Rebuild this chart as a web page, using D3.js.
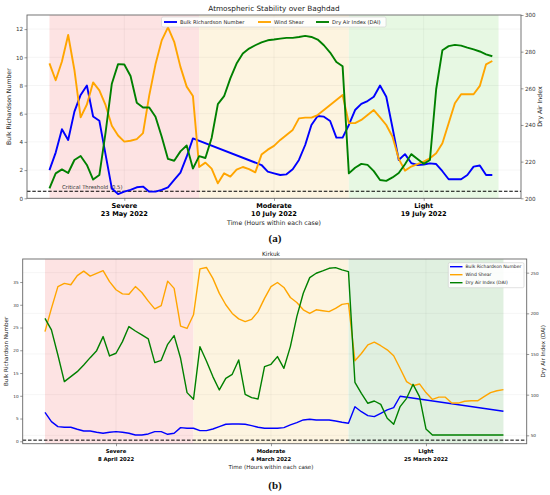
<!DOCTYPE html>
<html>
<head>
<meta charset="utf-8">
<script src="https://cdn.jsdelivr.net/npm/d3@7/dist/d3.min.js"></script>
<style>
body { margin: 0; background: #fff; }
text { font-family: "DejaVu Sans", sans-serif; }
</style>
</head>
<body>
<svg id="chart" width="550" height="495"></svg>
<script>
// ---- shared labels ----
var caseNames = ["Severe", "Moderate", "Light"];
var seriesNames = ["Bulk Richardson Number", "Wind Shear", "Dry Air Index (DAI)"];
var seriesColors = ["#0000ff", "#ffa500", "#008000"];
var caseTickHours = [12, 36, 60];

// ---- (a) Baghdad, hourly from hour 0 ----
var datesA = ["23 May 2022", "10 July 2022", "19 July 2022"];
var edgesA = [0, 24, 48, 72];
var briA = [2.0, 3.24, 4.9, 4.14, 6.15, 7.33, 8.0, 5.8, 5.5, 3.1, 0.7, 0.3, 0.47, 0.6, 0.78, 0.83, 0.47, 0.47, 0.6, 0.78, 1.3, 1.82, 2.95, 4.25,
  null, null, null, null, null, null, null, null, null, null, 2.36, 1.89, 1.77, 1.65, 1.7, 2.06, 2.72, 3.78, 5.2, 5.84, 5.79, 5.48, 4.3, 4.3,
  5.2, 6.26, 6.7, 6.9, 7.2, 8.0, 7.2, 5.0, 2.72, 3.13, 2.5, 2.36, 2.4, 2.48, 2.43, 1.92, 1.35, 1.35, 1.35, 1.65, 2.25, 2.33, 1.65, 1.65];
var shearA = [9.57, 8.37, 9.7, 11.58, 9.1, 5.74, 6.65, 8.22, 7.65, 6.6, 5.15, 4.45, 4.02, 4.08, 4.2, 4.62, 7.3, 9.5, 11.2, 12.12, 11.1, 9.32, 7.92, 7.26,
  2.22, 2.53, 2.1, 1.06, 1.77, 1.54, 2.03, 2.22, 2.07, 1.84, 3.1, 3.45, 3.72, 4.14, 4.49, 4.85, 5.67, 5.72, 5.72, 5.9, 6.26, 6.62, 6.97, 7.33,
  5.33, 5.33, 5.56, 5.91, 6.26, 5.74, 5.2, 4.37, 2.8, 1.96, 2.25, 2.43, 2.6, 2.84, 3.19, 3.9, 5.32, 6.74, 7.38, 7.38, 7.38, 7.97, 9.5, 9.74];
var daiA = [205.4, 213.6, 215.8, 213.8, 220.9, 223.1, 218.2, 210.2, 212.7, 236, 262.5, 273.2, 273, 266.7, 252.1, 249.5, 249.5, 244.5, 233.6, 221.5, 220.5, 225.6, 228.8, 216.2,
  223, 222, 232.9, 251.4, 255.7, 265.4, 273.5, 279, 281.7, 283.5, 285.1, 286.2, 286.6, 287.1, 287.5, 287.5, 288, 288.6, 288, 286.6, 283.5, 279.5, 274.4, 272,
  213.6, 216.7, 218.8, 218.2, 214.8, 210, 209.5, 211.4, 213.8, 218.6, 224.1, 221.5, 218.8, 220.9, 259.5, 280.8, 283, 283.7, 283.3, 282.2, 281.2, 280.1, 278.5, 277.5];
var leftTicksA = [0, 2, 4, 6, 8, 10, 12];
var rightTicksA = [200, 220, 240, 260, 280, 300];

// ---- (b) Kirkuk, hourly from hour 1 ----
var datesB = ["8 April 2022", "4 March 2022", "25 March 2022"];
var edgesB = [1, 24, 48, 72];
var briB = [6.37, 4.32, 3.22, 3.08, 3.08, 2.64, 2.27, 2.27, 1.98, 1.76, 1.98, 2.12, 1.98, 1.76, 1.39, 1.39, 1.61, 2.12, 2.12, 1.54, 1.76, 3.0, 2.86, 2.86,
  2.34, 2.34, 2.7, 3.22, 3.74, 3.8, 3.8, 3.74, 3.44, 3.08, 2.86, 2.86, 2.86, 3.0, 3.59, 4.1, 4.69, 4.83, 4.69, 4.69, 4.69, 4.47, 4.18, 3.96,
  7.6, 6.5, 5.64, 5.42, 6.15, 6.9, 7.4, 9.9, null, null, null, null, null, null, null, null, null, null, null, null, null, null, null, 6.6];
var shearB = [24.1, 29.2, 34.0, 34.7, 34.4, 36.4, 37.4, 36.3, 36.9, 37.5, 35.1, 33.3, 32.4, 32.3, 34.0, 32.7, 30.8, 29.1, 29.8, 35.2, 33.6, 25.3, 24.8, 27.8,
  37.9, 38.2, 35.8, 32.5, 30.0, 28.1, 26.9, 26.3, 26.8, 28.5, 31.4, 34.0, 34.9, 33.8, 31.6, 30.5, 28.9, 28.1, 28.9, 28.7, 28.5, 29.2, 30.1, 30.3,
  17.7, 19.3, 21.2, 21.8, 21.0, 20.1, 18.8, 16.0, 13.1, 12.2, 12.6, 10.7, 9.2, 9.7, 9.7, 8.4, 8.4, 8.8, 8.9, 8.9, 9.8, 10.7, 11.1, 11.35];
var daiB = [193.9, 179.6, 148.8, 116, 122.2, 128.3, 136.5, 145.5, 154.1, 171.4, 147.6, 150.9, 165.2, 183.7, 178.3, 173.4, 168.5, 139.4, 142.2, 161.9, 172.6, 144.7, 102.5, 94.3,
  159, 141.4, 122.2, 105.8, 120.1, 125, 142.7, 100.4, 96.3, 94.7, 134.5, 137.3, 146.8, 132.4, 159.1, 196, 224.7, 243.9, 249.3, 252.1, 255.4, 256.2, 253.4, 251.3,
  115.2, 101.7, 89.4, 92.2, 88.1, 70.9, 63.5, 85.3, 95.5, 112.7, 97.6, 57.8, 50.4, 50.4, 50.4, 50.4, 50.4, 50.4, 50.4, 50.4, 50.4, 50.4, 50.4, 50.4];
var leftTicksB = [0, 5, 10, 15, 20, 25, 30, 35];
var rightTicksB = [50, 100, 150, 200, 250];

var svg = d3.select("#chart");

function toPoints(vals, start) {
  return vals.map(function (v, i) { return { h: start + i, v: v }; })
    .filter(function (d) { return d.v != null; });
}

function drawPanel(p) {
  var g = svg.append("g");
  var x = d3.scaleLinear().domain(p.xDomain).range([p.left, p.right]);
  var yL = d3.scaleLinear().domain(p.yLeft).range([p.bottom, p.top]);
  var yR = d3.scaleLinear().domain(p.yRight).range([p.bottom, p.top]);

  //case shading
  for (var i = 0; i < 3; i++) {
    g.append("rect")
      .attr("x", x(p.edges[i]))
      .attr("y", p.top)
      .attr("width", x(p.edges[i + 1]) - x(p.edges[i]))
      .attr("height", p.bottom - p.top)
      .attr("fill", p.shade[i]);
  }

  //grid
  var gridScale = p.gridRight ? yR : yL;
  var gridTicks = p.gridRight ? p.rightTicks : p.leftTicks;
  g.selectAll("line.hgrid").data(gridTicks).enter().append("line")
    .attr("x1", p.left).attr("x2", p.right)
    .attr("y1", function (d) { return gridScale(d); })
    .attr("y2", function (d) { return gridScale(d); })
    .attr("stroke", "#000").attr("stroke-opacity", 0.07).attr("stroke-width", 0.6);
  g.selectAll("line.vgrid").data(caseTickHours).enter().append("line")
    .attr("x1", function (d) { return x(d); }).attr("x2", function (d) { return x(d); })
    .attr("y1", p.top).attr("y2", p.bottom)
    .attr("stroke", "#000").attr("stroke-opacity", 0.07).attr("stroke-width", 0.6);

  //threshold
  g.append("line")
    .attr("x1", p.left).attr("x2", p.right)
    .attr("y1", yL(p.threshold)).attr("y2", yL(p.threshold))
    .attr("stroke", "#000").attr("stroke-width", 1)
    .attr("stroke-dasharray", "3.5,1.8");
  if (p.thresholdLabel) {
    g.append("text")
      .attr("x", x(p.thresholdLabelHour)).attr("y", yL(p.threshold) - 2.5)
      .attr("font-size", p.fs.thr).attr("fill", "#333")
      .text(p.thresholdLabel);
  }

  //series
  var lineL = d3.line().x(function (d) { return x(d.h); }).y(function (d) { return yL(d.v); });
  var lineR = d3.line().x(function (d) { return x(d.h); }).y(function (d) { return yR(d.v); });
  [[p.bri, lineL, 0], [p.shear, lineL, 1], [p.dai, lineR, 2]].forEach(function (s) {
    g.append("path")
      .attr("d", s[1](toPoints(s[0], p.edges[0])))
      .attr("fill", "none")
      .attr("stroke", seriesColors[s[2]])
      .attr("stroke-width", p.lw)
      .attr("stroke-linejoin", "round");
  });

  //frame
  g.append("rect")
    .attr("x", p.left).attr("y", p.top)
    .attr("width", p.right - p.left).attr("height", p.bottom - p.top)
    .attr("fill", "none").attr("stroke", "#666").attr("stroke-width", 0.9);

  //axes
  var axL = g.append("g").attr("transform", "translate(" + p.left + ",0)")
    .call(d3.axisLeft(yL).tickValues(p.leftTicks).tickSize(2.5).tickPadding(1.5));
  var axR = g.append("g").attr("transform", "translate(" + p.right + ",0)")
    .call(d3.axisRight(yR).tickValues(p.rightTicks).tickSize(2.5).tickPadding(1.5));
  var axB = g.append("g").attr("transform", "translate(0," + p.bottom + ")")
    .call(d3.axisBottom(x).tickValues(caseTickHours).tickSize(2.5).tickFormat(""));
  [axL, axR, axB].forEach(function (a) {
    a.select(".domain").remove();
    a.selectAll(".tick line").attr("stroke", "#555").attr("stroke-width", 0.6);
    a.selectAll("text").attr("font-size", p.fs.tick).attr("fill", "#333");
  });

  //case labels
  caseTickHours.forEach(function (h, i) {
    g.append("text").attr("x", x(h)).attr("y", p.bottom + p.caseDy[0])
      .attr("text-anchor", "middle").attr("font-weight", "bold")
      .attr("font-size", p.fs.cases).text(caseNames[i]);
    g.append("text").attr("x", x(h)).attr("y", p.bottom + p.caseDy[1])
      .attr("text-anchor", "middle").attr("font-weight", "bold")
      .attr("font-size", p.fs.cases).text(p.dates[i]);
  });

  //axis titles
  g.append("text").attr("x", x(36)).attr("y", p.bottom + p.caseDy[2])
    .attr("text-anchor", "middle").attr("font-size", p.fs.label).attr("fill", "#222")
    .text("Time (Hours within each case)");
  g.append("text")
    .attr("transform", "translate(" + p.yLabelX[0] + "," + (p.top + p.bottom) / 2 + ") rotate(-90)")
    .attr("text-anchor", "middle").attr("font-size", p.fs.label).attr("fill", "#222")
    .text("Bulk Richardson Number");
  g.append("text")
    .attr("transform", "translate(" + p.yLabelX[1] + "," + (p.top + p.bottom) / 2 + ") rotate(-90)")
    .attr("text-anchor", "middle").attr("font-size", p.fs.label).attr("fill", "#222")
    .text(p.rightLabel);

  //title
  g.append("text").attr("x", x(36)).attr("y", p.titleY)
    .attr("text-anchor", "middle").attr("font-size", p.fs.title).attr("fill", "#222")
    .text(p.title);

  //legend
  var lg = g.append("g");
  lg.append("rect")
    .attr("x", p.legend.x).attr("y", p.legend.y)
    .attr("width", p.legend.w).attr("height", p.legend.h)
    .attr("rx", 1.5)
    .attr("fill", "#fff").attr("fill-opacity", 0.85)
    .attr("stroke", "#ccc").attr("stroke-width", 0.6);
  seriesNames.forEach(function (name, i) {
    var ex = p.legend.items[i][0], ey = p.legend.items[i][1];
    lg.append("line").attr("x1", ex).attr("x2", ex + p.legend.len)
      .attr("y1", ey).attr("y2", ey)
      .attr("stroke", seriesColors[i]).attr("stroke-width", p.lw);
    lg.append("text").attr("x", ex + p.legend.len + 3).attr("y", ey)
      .attr("dy", "0.35em").attr("font-size", p.fs.legend).attr("fill", "#222")
      .text(name);
  });

  //panel letter
  svg.append("text").attr("x", 275).attr("y", p.letterY)
    .attr("text-anchor", "middle")
    .style("font-family", "'Liberation Serif', 'DejaVu Serif', serif")
    .attr("font-size", 11).attr("font-weight", "bold")
    .attr("fill", "#111").text(p.letter);
}

drawPanel({
  left: 27, right: 521, top: 15, bottom: 198.3,
  xDomain: [-3.6, 75.6], yLeft: [0, 13], yRight: [200, 300],
  edges: edgesA, dates: datesA,
  bri: briA, shear: shearA, dai: daiA,
  leftTicks: leftTicksA, rightTicks: rightTicksA, gridRight: false,
  shade: ["#fde3e3", "#fdf4e0", "#e7f8e3"],
  threshold: 0.5, thresholdLabel: "Critical Threshold (0.5)", thresholdLabelHour: 2,
  lw: 1.9,
  fs: { tick: 5.6, cases: 6.6, label: 6.2, title: 7.3, legend: 5.2, thr: 5.3 },
  caseDy: [9.5, 17.8, 26.2],
  yLabelX: [11, 542],
  rightLabel: "Dry Air Index",
  title: "Atmospheric Stability over Baghdad", titleY: 11,
  legend: { x: 161.5, y: 17, w: 224.5, h: 10, len: 13,
    items: [[164, 22], [258, 22], [316, 22]] },
  letter: "(a)", letterY: 242
});

drawPanel({
  left: 22.7, right: 526.7, top: 259, bottom: 443.7,
  xDomain: [-2.45, 75.6], yLeft: [-0.53, 40.06], yRight: [39.7, 266.8],
  edges: edgesB, dates: datesB,
  bri: briB, shear: shearB, dai: daiB,
  leftTicks: leftTicksB, rightTicks: rightTicksB, gridRight: true,
  shade: ["#fde3e3", "#fdf4e0", "#e0f0e0"],
  threshold: 0.25, thresholdLabel: null,
  lw: 1.4,
  fs: { tick: 4.2, cases: 5.3, label: 5.6, title: 5.8, legend: 4.5, thr: 4.5 },
  caseDy: [9, 17, 25],
  yLabelX: [8, 545],
  rightLabel: "Dry Air Index (DAI)",
  title: "Kirkuk", titleY: 255.5,
  legend: { x: 448.3, y: 262.7, w: 75.7, h: 25, len: 12.5,
    items: [[450, 266.7], [450, 274.7], [450, 282.7]] },
  letter: "(b)", letterY: 489
});
</script>
</body>
</html>
